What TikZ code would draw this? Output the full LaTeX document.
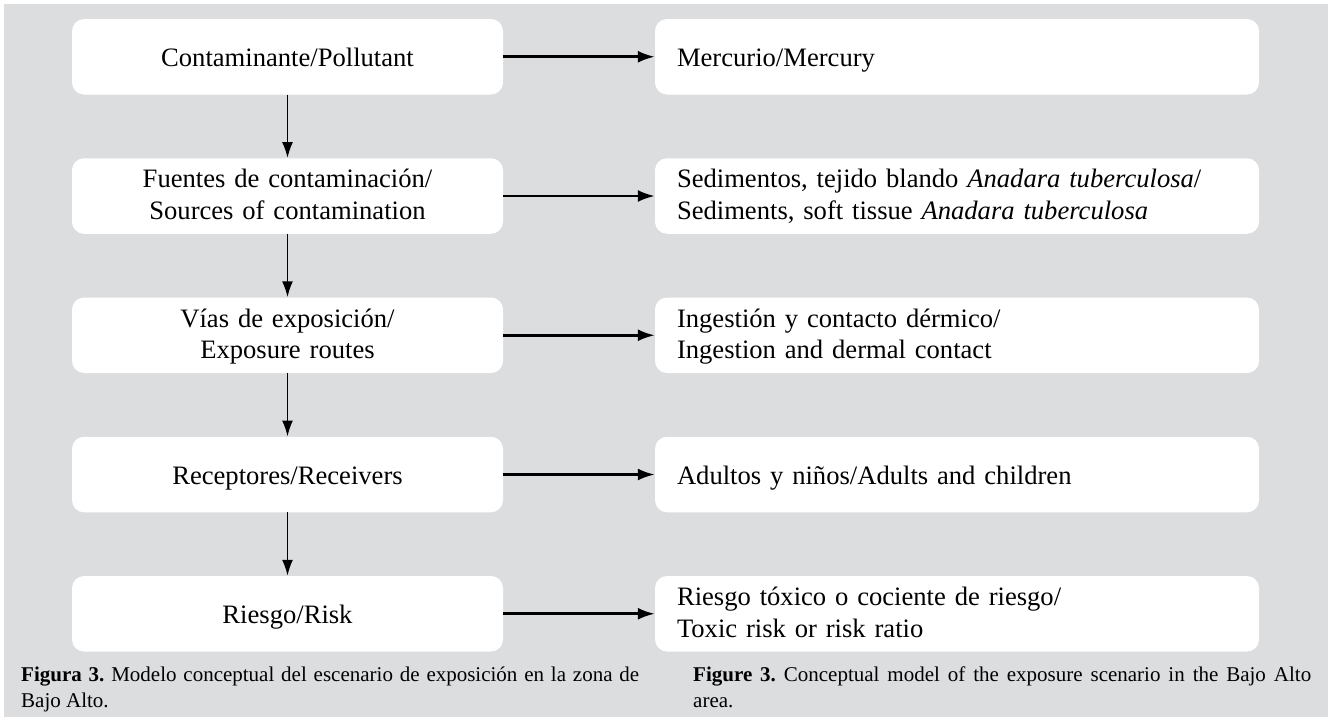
\documentclass[tikz,border=0pt]{standalone}
\usepackage{fontspec}
\setmainfont{Liberation Serif}
\usetikzlibrary{arrows.meta}
\definecolor{bggray}{RGB}{220,221,223}
\frenchspacing
\begin{document}
\begin{tikzpicture}[x=1pt,y=-1pt,
  boxtext/.style={font=\fontsize{26.6}{31.6}\selectfont},
  lbox/.style={boxtext, fill=white, rounded corners=12pt, minimum width=431pt,
    minimum height=75.5pt, text width=410pt, align=center, inner xsep=0pt},
  rbox/.style={boxtext, fill=white, rounded corners=12pt, minimum width=604pt,
    minimum height=75.5pt, text width=560pt, align=left, inner xsep=22pt},
  oneline/.style={text height=19pt, text depth=0pt},
  twoline/.style={text height=19pt, text depth=35.2pt},
  harrow/.style={-{Latex[length=17pt,width=12pt]}, line width=2.6pt},
  varrow/.style={-{Latex[length=16pt,width=11pt]}, line width=1.9pt},
  captext/.style={anchor=base west, inner sep=0pt, font=\fontsize{21}{26}\selectfont}]
\useasboundingbox (0,0) rectangle (1335,721);
\fill[white] (0,0) rectangle (1335,721);
\fill[bggray] (4,4) rectangle (1328,717);

\node[lbox,oneline] (l1) at (287.5,56.75) {Contaminante/Pollutant};
\node[lbox,twoline] (l2) at (287.5,196) {Fuentes de contaminación/\\Sources of contamination};
\node[lbox,twoline] (l3) at (287.5,335.25) {Vías de exposición/\\Exposure routes};
\node[lbox,oneline] (l4) at (287.5,474.5) {Receptores/Receivers};
\node[lbox,oneline] (l5) at (287.5,613.75) {Riesgo/Risk};

\node[rbox,oneline] (r1) at (957,56.75) {Mercurio/Mercury};
\node[rbox,twoline] (r2) at (957,196) {Sedimentos, tejido blando \textit{Anadara tuberculosa}/\\Sediments, soft tissue \textit{Anadara tuberculosa}};
\node[rbox,twoline] (r3) at (957,335.25) {Ingestión y contacto dérmico/\\Ingestion and dermal contact};
\node[rbox,oneline] (r4) at (957,474.5) {Adultos y niños/Adults and children};
\node[rbox,twoline] (r5) at (957,613.75) {Riesgo tóxico o cociente de riesgo/\\Toxic risk or risk ratio};

\foreach \i in {1,...,5} {\draw[harrow] (l\i.east) -- (r\i.west);}
\foreach \i/\j in {1/2,2/3,3/4,4/5} {\draw[varrow] (l\i.south) -- (l\j.north);}

\node[captext] (c1a) at (21,681) {\makebox[618pt][s]{\textbf{Figura 3.} Modelo conceptual del escenario de exposición en la zona de}};
\node[captext] (c1b) at (21,707) {Bajo Alto.};
\node[captext] (c2a) at (693,681) {\makebox[618pt][s]{\textbf{Figure 3.} Conceptual model of the exposure scenario in the Bajo Alto}};
\node[captext] (c2b) at (693,707) {area.};
\end{tikzpicture}
\end{document}
